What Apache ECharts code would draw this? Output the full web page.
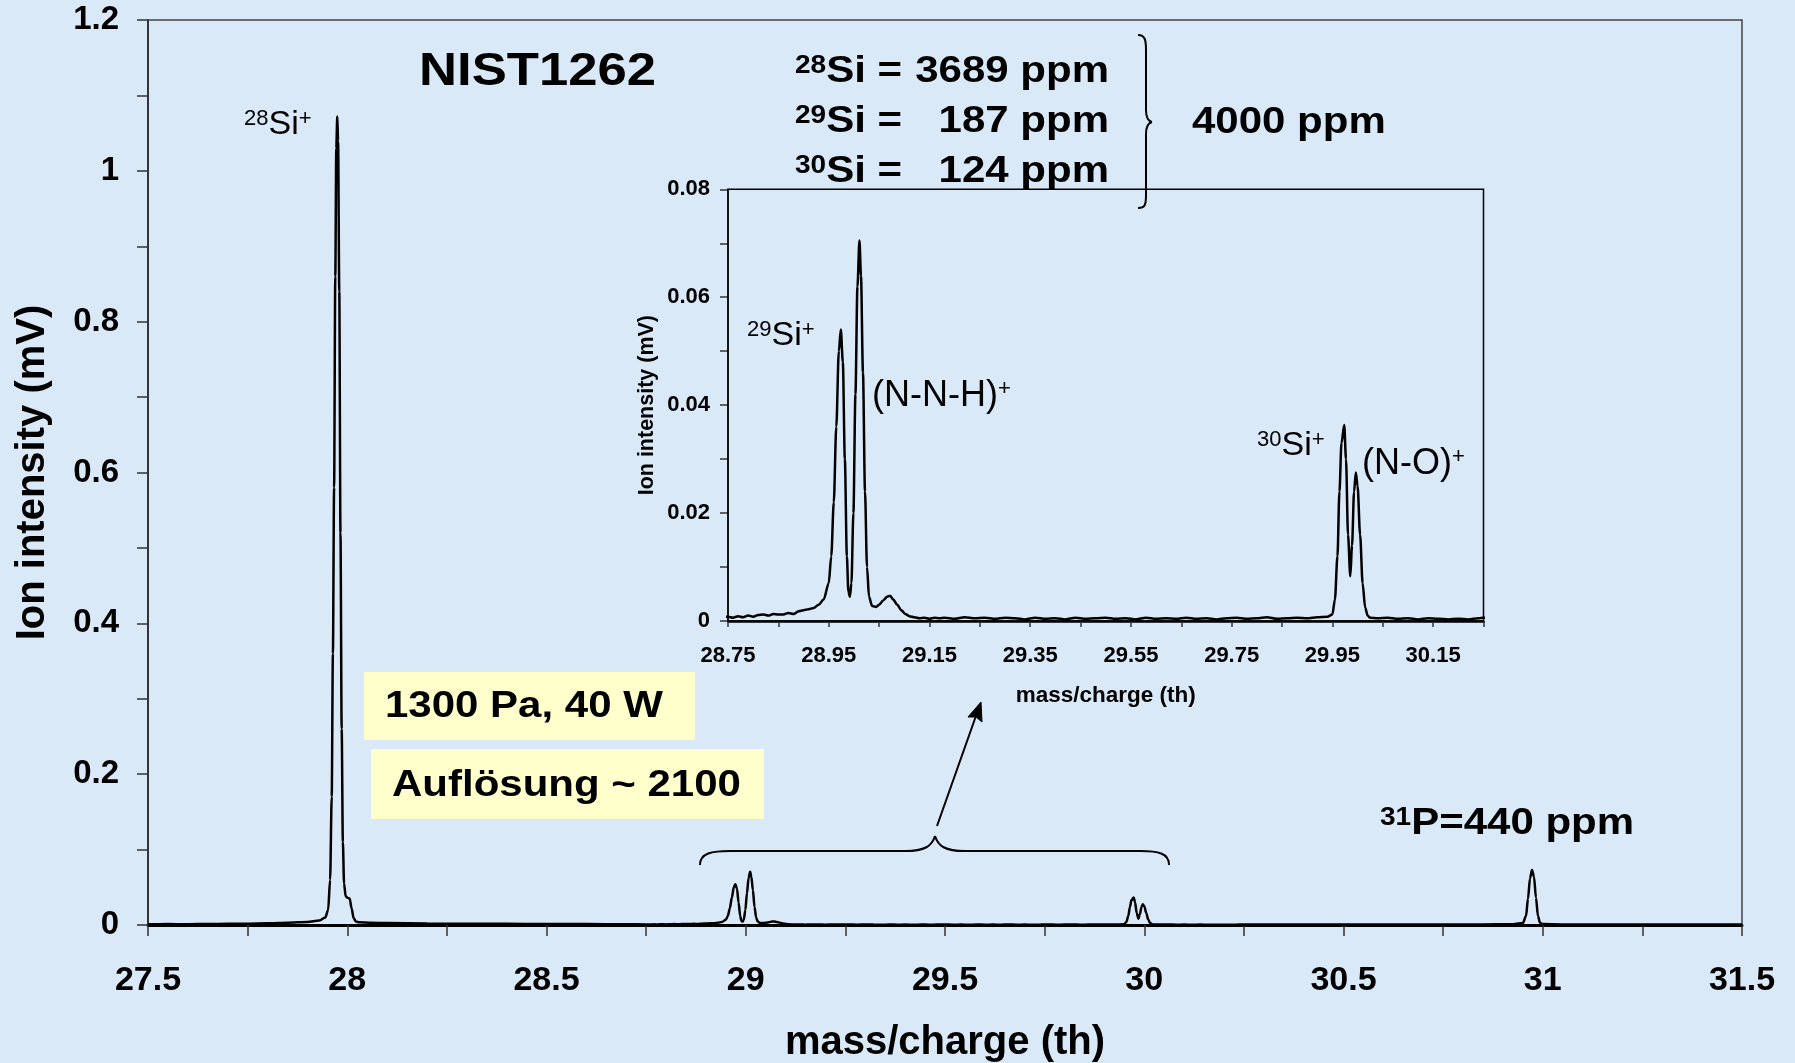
<!DOCTYPE html>
<html><head><meta charset="utf-8">
<script src="https://cdn.jsdelivr.net/npm/echarts@6/dist/echarts.min.js"></script>
<style>html,body{margin:0;padding:0;background:#dae9f8;}#c{width:1795px;height:1063px;}</style>
</head><body><div id="c"></div>
<script>
const FONT = "'Liberation Sans', Arial, Helvetica, sans-serif";

// ---- spectrum data [mass/charge (th), ion intensity (mV)] ----
const lowMassBaseline = [[27.50,0.0010],[27.55,0.0012],[27.60,0.0010],[27.65,0.0014],[27.70,0.0015],[27.75,0.0018],[27.80,0.0022],[27.85,0.0030],[27.90,0.0040],[27.93,0.0060]];
const si28Peak = [[27.945,0.010],[27.952,0.020],[27.957,0.06],[27.961,0.17],[27.964,0.36],[27.967,0.58],[27.970,0.86],[27.9725,1.03],[27.975,1.072],[27.977,1.04],[27.980,0.84],[27.983,0.52],[27.986,0.26],[27.989,0.11],[27.992,0.055],[27.996,0.038],[28.001,0.036],[28.006,0.035],[28.011,0.022],[28.016,0.009],[28.022,0.0045],[28.03,0.0035]];
const si28Tail = [[28.06,0.0030],[28.10,0.0025],[28.20,0.0020],[28.30,0.0016],[28.40,0.0015],[28.50,0.0012],[28.60,0.0012],[28.70,0.0010]];
const si29Region = [[28.75,0.0008],[28.76,0.0006],[28.77,0.0009],[28.78,0.0007],[28.79,0.0010],[28.80,0.0008],[28.81,0.0011],[28.82,0.0012],[28.83,0.0010],[28.84,0.0013],[28.85,0.0012],[28.86,0.0012],[28.87,0.0015],[28.88,0.0013],[28.89,0.0018],[28.90,0.0020],[28.91,0.0022],[28.92,0.0024],[28.93,0.0030],[28.940,0.0040],[28.950,0.0070],[28.955,0.012],[28.960,0.022],[28.965,0.036],[28.970,0.050],[28.974,0.054],[28.978,0.048],[28.982,0.030],[28.986,0.012],[28.989,0.0055],[28.992,0.0045],[28.995,0.007],[28.999,0.020],[29.003,0.042],[29.007,0.062],[29.011,0.0705],[29.014,0.064],[29.018,0.046],[29.022,0.024],[29.026,0.010],[29.030,0.0045],[29.036,0.0028],[29.044,0.0026],[29.050,0.0030],[29.058,0.0038],[29.066,0.0045],[29.072,0.0047],[29.078,0.0040],[29.086,0.0030],[29.094,0.0020],[29.102,0.0013],[29.110,0.0009],[29.12,0.0007],[29.13,0.0005],[29.14,0.0006],[29.15,0.0004],[29.16,0.0006],[29.17,0.0005]];
const midBaseline = [[29.18,0.0006],[29.20,0.0004],[29.22,0.0007],[29.24,0.0005],[29.26,0.0006],[29.28,0.0004],[29.30,0.0006],[29.32,0.0005],[29.34,0.0003],[29.36,0.0006],[29.38,0.0004],[29.40,0.0005],[29.42,0.0003],[29.44,0.0006],[29.46,0.0004],[29.48,0.0005],[29.50,0.0006],[29.52,0.0004],[29.54,0.0005],[29.56,0.0003],[29.58,0.0006],[29.60,0.0004],[29.62,0.0005],[29.64,0.0004],[29.66,0.0006],[29.68,0.0004],[29.70,0.0005],[29.72,0.0003],[29.74,0.0005],[29.76,0.0006],[29.78,0.0004],[29.80,0.0005],[29.82,0.0007],[29.84,0.0004],[29.86,0.0005],[29.88,0.0006],[29.90,0.0005],[29.92,0.0007],[29.94,0.0008]];
const si30Region = [[29.950,0.0012],[29.955,0.004],[29.960,0.012],[29.964,0.024],[29.968,0.033],[29.9735,0.0363],[29.977,0.030],[29.981,0.016],[29.9855,0.0083],[29.989,0.014],[29.993,0.024],[29.9965,0.0275],[30.000,0.025],[30.005,0.016],[30.010,0.007],[30.015,0.0025],[30.020,0.0010],[30.025,0.0006],[30.04,0.0005],[30.06,0.0006],[30.08,0.0004],[30.10,0.0005],[30.12,0.0003],[30.14,0.0005],[30.16,0.0004],[30.18,0.0003],[30.20,0.0004],[30.22,0.0003],[30.24,0.0005],[30.25,0.0006]];
const highMassBaseline = [[30.35,0.0006],[30.45,0.0005],[30.55,0.0006],[30.65,0.0005],[30.75,0.0006],[30.85,0.0008],[30.92,0.0010]];
const p31Peak = [[30.950,0.0025],[30.958,0.012],[30.963,0.035],[30.968,0.062],[30.973,0.073],[30.978,0.064],[30.983,0.036],[30.988,0.012],[30.993,0.003]];
const highMassTail = [[31.00,0.0012],[31.05,0.0008],[31.15,0.0007],[31.25,0.0006],[31.35,0.0006],[31.45,0.0005],[31.50,0.0005]];

const spectrum = [].concat(lowMassBaseline, si28Peak, si28Tail, si29Region, midBaseline, si30Region, highMassBaseline, p31Peak, highMassTail);

// axis ranges / ticks
const mainXRange = [27.5, 31.5], mainXStep = 0.25;
const mainYRange = [0, 1.2], mainYStep = 0.1;
const insetXRange = [28.75, 30.25], insetXStep = 0.1;
const insetYRange = [0, 0.08], insetYStep = 0.01;

const chart = echarts.init(document.getElementById('c'), null, {renderer: 'canvas'});

function sup(sizeMain, sizeSup, bold) {
  return {
    s: {fontSize: sizeSup, fontFamily: FONT, fontWeight: bold ? 'bold' : 'normal', verticalAlign: 'top', lineHeight: sizeSup, fill: '#000', color: '#000'},
    m: {fontSize: sizeMain, fontFamily: FONT, fontWeight: bold ? 'bold' : 'normal', lineHeight: sizeMain, fill: '#000', color: '#000'}
  };
}
function richText(x, y, text, sizeMain, sizeSup, bold, align, scaleX) {
  return {
    type: 'text', x: x, y: y, scaleX: scaleX || 1, z: 50,
    style: {text: text, rich: sup(sizeMain, sizeSup, bold), align: align || 'left', verticalAlign: 'middle', fill: '#000'}
  };
}
function plainText(x, y, text, size, bold, align, scaleX) {
  return {
    type: 'text', x: x, y: y, scaleX: scaleX || 1, z: 50,
    style: {text: text, font: (bold ? 'bold ' : '') + size + 'px ' + FONT, fill: '#000',
            align: align || 'left', verticalAlign: 'middle'}
  };
}
const STROKE = {stroke: '#000', lineWidth: 2, fill: null};
function seg(x1, y1, x2, y2) { return {type: 'line', z: 45, shape: {x1, y1, x2, y2}, style: STROKE}; }
function curve(x1, y1, cpx1, cpy1, cpx2, cpy2, x2, y2) {
  return {type: 'bezierCurve', z: 45, shape: {x1, y1, cpx1, cpy1, cpx2, cpy2, x2, y2}, style: STROKE};
}

const SX = 1.12, FS = 37.5, SUP = 25;
const graphics = [
  // yellow boxes
  {type: 'rect', shape: {x: 364, y: 672, width: 331, height: 68}, style: {fill: '#ffffcc'}, z: 40},
  {type: 'rect', shape: {x: 371, y: 749, width: 393, height: 70}, style: {fill: '#ffffcc'}, z: 40},
  plainText(385, 707, '1300 Pa, 40 W', FS, true, 'left', SX),
  plainText(392, 786, 'Auflösung ~ 2100', FS, true, 'left', SX),
  plainText(419, 72, 'NIST1262', 47, true, 'left', SX),
  // isotope table
  richText(795, 72, '{s|28}{m|Si =}', FS, SUP, true, 'left', SX),
  plainText(1109, 72, '3689 ppm', FS, true, 'right', SX),
  richText(795, 122, '{s|29}{m|Si =}', FS, SUP, true, 'left', SX),
  plainText(1109, 122, '187 ppm', FS, true, 'right', SX),
  richText(795, 172, '{s|30}{m|Si =}', FS, SUP, true, 'left', SX),
  plainText(1109, 172, '124 ppm', FS, true, 'right', SX),
  plainText(1192, 123, '4000 ppm', FS, true, 'left', SX),
  richText(1380, 824, '{s|31}{m|P=440 ppm}', FS, SUP, true, 'left', SX),
  // peak labels
  richText(244, 125, '{s|28}{m|Si}{s|+}', 34, 22, false, 'left', 1),
  richText(747, 336, '{s|29}{m|Si}{s|+}', 34, 22, false, 'left', 1),
  richText(872, 396, '{m|(N-N-H)}{s|+}', 36, 22, false, 'left', 1),
  richText(1257, 446, '{s|30}{m|Si}{s|+}', 34, 22, false, 'left', 1),
  richText(1362, 464, '{m|(N-O)}{s|+}', 36, 22, false, 'left', 1),
  // right brace
  curve(1138, 35, 1145, 35, 1146, 40, 1146, 50),
  seg(1146, 50, 1146, 110),
  curve(1146, 110, 1146, 118, 1148, 121, 1152, 122),
  curve(1152, 122, 1148, 123, 1146, 126, 1146, 134),
  seg(1146, 134, 1146, 195),
  curve(1146, 195, 1146, 205, 1145, 208, 1138, 208),
  // bottom brace
  curve(700, 865, 700, 853, 712, 851, 730, 851),
  seg(730, 851, 905, 851),
  curve(905, 851, 925, 851, 932, 846, 935, 836),
  curve(935, 836, 938, 846, 945, 851, 965, 851),
  seg(965, 851, 1140, 851),
  curve(1140, 851, 1158, 851, 1169, 853, 1169, 865),
  // arrow
  seg(937, 826, 977, 713),
  {type: 'polygon', z: 45, shape: {points: [[981, 702], [982, 722], [976, 717], [968, 717]]}, style: {fill: '#000', stroke: '#000', lineWidth: 1}}
];

function mainXLabel(v) { return Math.round(v * 4) % 2 === 0 ? String(Math.round(v * 10) / 10) : ''; }
function mainYLabel(v) { return Math.round(v * 10) % 2 === 0 ? String(Math.round(v * 10) / 10) : ''; }
function insetXLabel(v) { return Math.round((v - insetXRange[0]) * 10) % 2 === 0 ? v.toFixed(2) : ''; }
function insetYLabel(v) { const k = Math.round(v * 100); return k % 2 === 0 ? (k === 0 ? '0' : (k / 100).toFixed(2)) : ''; }

const option = {
  animation: false,
  backgroundColor: '#dae9f8',
  textStyle: {fontFamily: FONT},
  grid: [
    {left: 148, right: 53, top: 20, bottom: 138, show: true, borderColor: '#444', borderWidth: 1.5, backgroundColor: 'transparent',
     containLabel: false, outerBoundsMode: 'none'},
    {left: 728, right: 311.5, top: 189.3, bottom: 442, show: true, borderColor: '#000', borderWidth: 1.5, backgroundColor: 'transparent', z: 5,
     containLabel: false, outerBoundsMode: 'none'}
  ],
  xAxis: [
    {type: 'value', gridIndex: 0, min: mainXRange[0], max: mainXRange[1], interval: mainXStep,
     axisLine: {show: true, onZero: false, lineStyle: {color: '#000', width: 3}},
     axisTick: {show: true, length: 11, lineStyle: {color: '#333', width: 1.5}},
     axisLabel: {formatter: mainXLabel, fontSize: 34, fontWeight: 'bold', color: '#000', margin: 39, fontFamily: FONT},
     splitLine: {show: false},
     name: 'mass/charge (th)', nameLocation: 'middle', nameGap: 98,
     nameTextStyle: {fontSize: 40, fontWeight: 'bold', color: '#000', fontFamily: FONT}},
    {type: 'value', gridIndex: 1, min: insetXRange[0], max: insetXRange[1], interval: insetXStep,
     axisLine: {show: true, onZero: false, lineStyle: {color: '#000', width: 2.5}},
     axisTick: {show: true, length: 6, lineStyle: {color: '#333', width: 1.5}},
     axisLabel: {formatter: insetXLabel, fontSize: 22, fontWeight: 'bold', color: '#000', margin: 24, fontFamily: FONT},
     splitLine: {show: false},
     name: 'mass/charge (th)', nameLocation: 'middle', nameGap: 63,
     nameTextStyle: {fontSize: 22.5, fontWeight: 'bold', color: '#000', fontFamily: FONT}},
  ],
  yAxis: [
    {type: 'value', gridIndex: 0, min: mainYRange[0], max: mainYRange[1], interval: mainYStep,
     axisLine: {show: true, onZero: false, lineStyle: {color: '#222', width: 1.5}},
     axisTick: {show: true, length: 11, lineStyle: {color: '#333', width: 1.5}},
     axisLabel: {formatter: mainYLabel, fontSize: 33, fontWeight: 'bold', color: '#000', margin: 29, fontFamily: FONT},
     splitLine: {show: false},
     name: 'Ion intensity (mV)', nameLocation: 'middle', nameGap: 95,
     nameTextStyle: {fontSize: 40, fontWeight: 'bold', color: '#000', fontFamily: FONT}},
    {type: 'value', gridIndex: 1, min: insetYRange[0], max: insetYRange[1], interval: insetYStep,
     axisLine: {show: true, onZero: false, lineStyle: {color: '#222', width: 1.5}},
     axisTick: {show: true, length: 8, lineStyle: {color: '#333', width: 1.5}},
     axisLabel: {formatter: insetYLabel, fontSize: 22, fontWeight: 'bold', color: '#000', margin: 18, fontFamily: FONT},
     splitLine: {show: false},
     name: 'Ion intensity (mV)', nameLocation: 'middle', nameGap: 70,
     nameTextStyle: {fontSize: 21.5, fontWeight: 'bold', color: '#000', fontFamily: FONT}}
  ],
  series: [
    {type: 'line', xAxisIndex: 0, yAxisIndex: 0, data: spectrum, showSymbol: false, smooth: 0.3, smoothMonotone: 'x',
     lineStyle: {color: '#000', width: 2.5}, clip: true, z: 3},
    {type: 'line', xAxisIndex: 1, yAxisIndex: 1, data: spectrum, showSymbol: false, smooth: 0.3, smoothMonotone: 'x',
     lineStyle: {color: '#000', width: 2.5}, clip: true, z: 6}
  ],
  graphic: graphics
};
chart.setOption(option);
</script>
</body></html>
